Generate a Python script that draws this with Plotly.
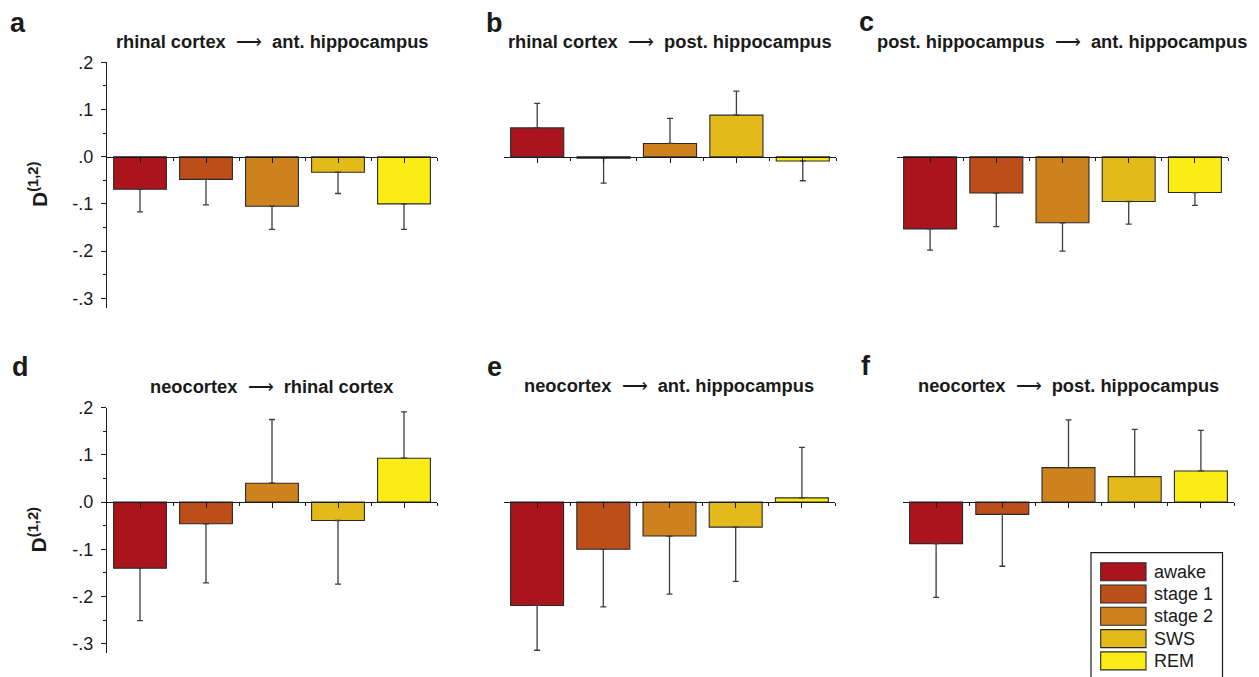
import plotly.graph_objects as go

# ---------------- data ----------------
categories = ["awake", "stage 1", "stage 2", "SWS", "REM"]
colors = ["#AB141C", "#BC4E1A", "#CD821E", "#E4BA1A", "#FAEC14"]

panel_letters = ["a", "b", "c", "d", "e", "f"]
panel_titles = [
    ("rhinal cortex", "ant. hippocampus"),
    ("rhinal cortex", "post. hippocampus"),
    ("post. hippocampus", "ant. hippocampus"),
    ("neocortex", "rhinal cortex"),
    ("neocortex", "ant. hippocampus"),
    ("neocortex", "post. hippocampus"),
]

vals_a = [-0.069, -0.048, -0.105, -0.033, -0.100]
err_a = [0.048, 0.054, 0.049, 0.045, 0.054]
vals_b = [0.061, -0.003, 0.028, 0.088, -0.009]
err_b = [0.052, 0.053, 0.053, 0.051, 0.042]
vals_c = [-0.153, -0.077, -0.140, -0.095, -0.076]
err_c = [0.045, 0.071, 0.060, 0.048, 0.027]
vals_d = [-0.140, -0.046, 0.040, -0.039, 0.093]
err_d = [0.111, 0.125, 0.135, 0.135, 0.098]
vals_e = [-0.219, -0.100, -0.072, -0.053, 0.009]
err_e = [0.095, 0.122, 0.123, 0.115, 0.107]
vals_f = [-0.088, -0.026, 0.073, 0.054, 0.066]
err_f = [0.114, 0.110, 0.101, 0.100, 0.086]

all_vals = [vals_a, vals_b, vals_c, vals_d, vals_e, vals_f]
all_errs = [err_a, err_b, err_c, err_d, err_e, err_f]

ytick_vals = [0.2, 0.1, 0.0, -0.1, -0.2, -0.3]
ytick_text = [".2", ".1", ".0", "-.1", "-.2", "-.3"]
yminor_vals = [0.15, 0.05, -0.05, -0.15, -0.25]
y_range = [-0.32, 0.2]
y_title = "<b>D<sup>(1,2)</sup></b>"

# ---------------- layout geometry (target screen pixels) ----------------
W, H = 1259, 677
OFF = 8  # page body margin
x_px = [(107, 437), (504, 836), (897, 1228), (107, 437), (504, 835), (903, 1234)]
y_px = [(62.3, 307.7)] * 3 + [(407.7, 653.1)] * 3
letter_pos = [(18.5, 23), (494.5, 23), (866, 22), (20, 367.5), (494.5, 367.5), (865.5, 366)]
title_pos = [(271.5, 41.5), (669.7, 41.5), (1062, 41.5), (271.7, 386), (669.3, 385), (1068.4, 385)]

FONT = "Liberation Sans, Arial, Helvetica, sans-serif"

def fx(p):
    return (p - OFF) / W

def fy(p):
    return 1 - (p - OFF) / H

fig = go.Figure()
layout = dict(
    width=W, height=H,
    margin=dict(l=0, r=0, t=0, b=0, pad=0, autoexpand=False),
    paper_bgcolor="white", plot_bgcolor="white",
    showlegend=False,
    font=dict(family=FONT, color="#1a1a1a"),
)

annotations = []
shapes = []
xpos = list(range(len(categories)))

for i in range(6):
    sfx = "" if i == 0 else str(i + 1)
    vals = all_vals[i]
    errs = all_errs[i]
    up = [e if v >= 0 else 0 for v, e in zip(vals, errs)]
    down = [e if v < 0 else 0 for v, e in zip(vals, errs)]
    fig.add_trace(go.Bar(
        x=xpos, y=vals, width=0.8,
        marker=dict(color=colors, line=dict(color="#2a2a2a", width=1.1)),
        error_y=dict(type="data", symmetric=False, array=up, arrayminus=down,
                     color="#3c3c3c", thickness=1.3, width=3),
        xaxis="x" + sfx, yaxis="y" + sfx,
        hovertext=categories, name=panel_letters[i],
    ))
    xd = [fx(x_px[i][0]), fx(x_px[i][1])]
    yd = [fy(y_px[i][1]), fy(y_px[i][0])]
    zero_pos = yd[0] + (0 - y_range[0]) / (y_range[1] - y_range[0]) * (yd[1] - yd[0])
    show_y = i in (0, 3)
    layout["xaxis" + sfx] = dict(
        domain=xd, range=[-0.5, len(categories) - 0.5],
        anchor="free", position=zero_pos, automargin=False,
        showline=True, linecolor="#1a1a1a", linewidth=1.3,
        showgrid=False, zeroline=False,
        ticks="outside", ticklen=5, tickwidth=1, tickcolor="#1a1a1a",
        tickvals=xpos, showticklabels=False,
        minor=dict(ticks="outside", ticklen=3, tickwidth=1, tickcolor="#1a1a1a",
                   tickvals=[p + 0.5 for p in xpos]),
        fixedrange=True,
    )
    ydict = dict(
        domain=yd, range=y_range, anchor="x" + sfx, automargin=False,
        showgrid=False, zeroline=False, fixedrange=True,
    )
    if show_y:
        ydict.update(
            showline=True, linecolor="#1a1a1a", linewidth=1.3,
            ticks="outside", ticklen=5, tickwidth=1, tickcolor="#1a1a1a",
            tickvals=ytick_vals, ticktext=ytick_text, ticklabelstandoff=4,
            tickfont=dict(size=18, family=FONT, color="#1a1a1a"),
            minor=dict(ticks="outside", ticklen=3, tickwidth=1, tickcolor="#1a1a1a",
                       tickvals=yminor_vals),
        )
        annotations.append(dict(
            x=fx(38), y=(yd[0] + yd[1]) / 2, xref="paper", yref="paper",
            text=y_title, textangle=-90, showarrow=False,
            font=dict(size=21, family=FONT, color="#1a1a1a"),
            xanchor="center", yanchor="middle",
        ))
    else:
        ydict.update(showline=False, ticks="", showticklabels=False)
    layout["yaxis" + sfx] = ydict

    lx, ly = letter_pos[i]
    annotations.append(dict(
        x=fx(lx), y=fy(ly), xref="paper", yref="paper",
        text="<b>%s</b>" % panel_letters[i], showarrow=False,
        font=dict(size=27, family=FONT, color="#1a1a1a"),
        xanchor="center", yanchor="middle",
    ))
    tx, ty = title_pos[i]
    src, dst = panel_titles[i]
    annotations.append(dict(
        x=fx(tx), y=fy(ty), xref="paper", yref="paper",
        text="<b>%s</b>  \u27f6  <b>%s</b>" % (src, dst), showarrow=False,
        font=dict(size=18.3, family=FONT, color="#1a1a1a"),
        xanchor="center", yanchor="middle",
    ))

# ---------------- legend (drawn box) ----------------
shapes.append(dict(type="rect", xref="paper", yref="paper",
                   x0=fx(1091), x1=fx(1222.5), y0=fy(552.7), y1=fy(700),
                   line=dict(color="#1a1a1a", width=1.2), fillcolor="rgba(0,0,0,0)"))
for k, (cat, col) in enumerate(zip(categories, colors)):
    top = 562.7 + k * 22.3
    shapes.append(dict(type="rect", xref="paper", yref="paper",
                       x0=fx(1100.7), x1=fx(1146), y0=fy(top + 18), y1=fy(top),
                       line=dict(color="#2a2a2a", width=1.1), fillcolor=col))
    annotations.append(dict(
        x=fx(1152), y=fy(top + 9), xref="paper", yref="paper",
        text=cat, showarrow=False, xanchor="left", yanchor="middle",
        font=dict(size=18, family=FONT, color="#1a1a1a"),
    ))

layout["annotations"] = annotations
layout["shapes"] = shapes
fig.update_layout(**layout)
fig.write_html("out.html")
